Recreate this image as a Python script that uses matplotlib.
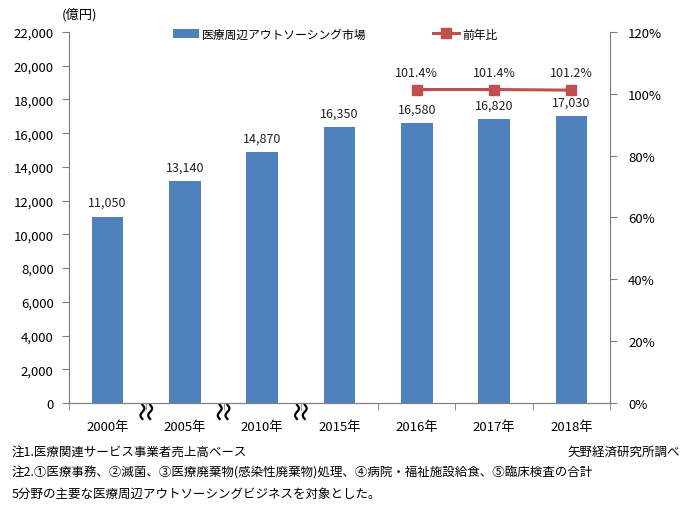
import matplotlib
matplotlib.use("Agg")
import matplotlib.pyplot as plt
import numpy as np

plt.rcParams['font.family'] = ['Noto Sans CJK JP', 'DejaVu Sans']

categories = ['2000年', '2005年', '2010年', '2015年', '2016年', '2017年', '2018年']
market = [11050, 13140, 14870, 16350, 16580, 16820, 17030]
yoy_idx = [4, 5, 6]
yoy = [101.4, 101.4, 101.2]
left_ticks = list(range(0, 22001, 2000))
right_ticks = list(range(0, 121, 20))

bar_color = '#4F81BD'
line_color = '#C0504D'
spine_color = '#808080'

fig = plt.figure(figsize=(6.93, 5.10), dpi=100)
ax = fig.add_axes([69/693, 1-404/510, (610-69)/693, (404-33)/510])
x = np.arange(len(categories))
ax.bar(x, market, width=0.41, color=bar_color, label='医療周辺アウトソーシング市場', zorder=2)
for xi, v in zip(x, market):
    ax.text(xi, v + 450, f'{v:,}', ha='center', va='bottom', fontsize=9, color='#222222')

ax.set_xlim(-0.5, len(categories) - 0.5)
ax.set_ylim(0, 22000)
ax.set_yticks(left_ticks)
ax.set_yticklabels([f'{t:,}' for t in left_ticks], fontsize=9.5)
ax.set_xticks(x)
ax.set_xticklabels(categories, fontsize=9.5)
ax.tick_params(axis='x', length=0, pad=12)
ax.set_xticks(np.arange(-0.5, len(categories)), minor=True)
ax.tick_params(axis='x', which='minor', length=5, color=spine_color, direction='out')
ax.tick_params(axis='y', length=5, color=spine_color, direction='out', pad=6)
ax.spines['top'].set_visible(False)
for s in ['left', 'bottom', 'right']:
    ax.spines[s].set_color(spine_color)

ax2 = ax.twinx()
ax2.plot([x[i] for i in yoy_idx], yoy, color=line_color, lw=2.2, marker='s', ms=7,
         label='前年比', zorder=3)
for i, v in zip(yoy_idx, yoy):
    ax2.text(x[i], v + 3.5, f'{v:.1f}%', ha='center', va='bottom', fontsize=9, color='#222222')
ax2.set_ylim(0, 120)
ax2.set_yticks(right_ticks)
ax2.set_yticklabels([f'{t}%' for t in right_ticks], fontsize=9.5)
ax2.tick_params(axis='y', length=5, color=spine_color, direction='out', pad=8)
ax2.spines['top'].set_visible(False)
for s in ['left', 'bottom', 'right']:
    ax2.spines[s].set_color(spine_color)

# break marks between non-consecutive years
from matplotlib.transforms import blended_transform_factory
tr = blended_transform_factory(ax.transData, ax.transAxes)
for b in [0.5, 1.5, 2.5]:
    t = np.linspace(0, 1, 50)
    for off in (-0.05, 0.05):
        xs = b + off + 0.025 * np.sin(t * 2 * np.pi)
        ys = -0.005 - 0.038 * t
        ax.plot(xs, ys, transform=tr, color='black', lw=1.6, clip_on=False, zorder=5)

h1, l1 = ax.get_legend_handles_labels()
h2, l2 = ax2.get_legend_handles_labels()
fig.legend(h1 + h2, l1 + l2, loc='center', bbox_to_anchor=(335/693, 1 - 35/510), ncol=2,
           frameon=False, fontsize=8.5, columnspacing=5.6, handlelength=2.2, handletextpad=0.3)

fig.text(62/693, 1 - 15/510, '(億円)', fontsize=9.5, ha='left', va='center')
fig.text(12/693, 1 - 452/510, '注1.医療関連サービス事業者売上高ベース', fontsize=9, ha='left', va='center')
fig.text(680/693, 1 - 452/510, '矢野経済研究所調べ', fontsize=9, ha='right', va='center')
fig.text(12/693, 1 - 473/510, '注2.①医療事務、②滅菌、③医療廃棄物(感染性廃棄物)処理、④病院・福祉施設給食、⑤臨床検査の合計',
         fontsize=9, ha='left', va='center')
fig.text(12/693, 1 - 494/510, '5分野の主要な医療周辺アウトソーシングビジネスを対象とした。', fontsize=9, ha='left', va='center')

fig.savefig('out.png', dpi=100)
